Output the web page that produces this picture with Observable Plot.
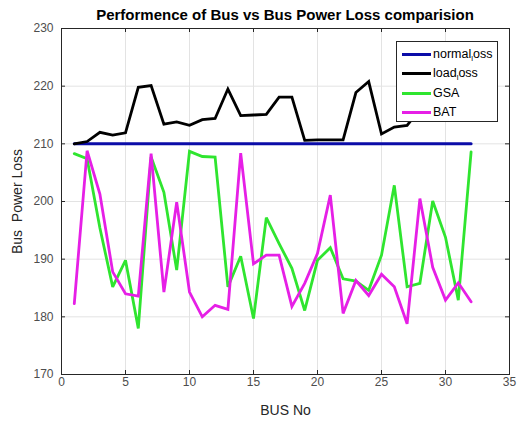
<!DOCTYPE html>
<html><head><meta charset="utf-8">
<script src="https://cdn.jsdelivr.net/npm/d3@7"></script>
<script src="https://cdn.jsdelivr.net/npm/@observablehq/plot@0.6"></script>
<style>
body{margin:0;background:#fff;font-family:"Liberation Sans",Arial,sans-serif}
#wrap{position:relative;width:525px;height:422px}
#chart{position:absolute;left:0;top:0;z-index:1}
#title{position:absolute;left:61px;width:448px;top:6px;text-align:center;font-weight:bold;font-size:15px;color:#000;line-height:18px;z-index:2}
#legend{position:absolute;left:396px;top:41px;width:102px;height:81px;background:#fff;border:1px solid #262626;box-sizing:border-box;font-size:12.5px;color:#000;z-index:3}
.row{position:absolute;left:0;height:19px;width:100%}
.row .sw{position:absolute;left:5px;width:29px;top:8px;height:3px}
.row .lb{position:absolute;left:36px;top:1px;line-height:16px;white-space:nowrap}
.row sub{font-size:8px;vertical-align:-3px;line-height:0}
</style>
</head><body>
<div id="wrap"><div id="title"></div><div id="chart"></div><div id="legend"></div></div>
<script>
const titleText = "Performence of Bus vs Bus Power Loss comparision";
const xLabel = "BUS No";
const yLabel = "Bus\u00a0 Power Loss";
const xTicks = [0, 5, 10, 15, 20, 25, 30, 35];
const yTicks = [170, 180, 190, 200, 210, 220, 230];
const busNo = [1,2,3,4,5,6,7,8,9,10,11,12,13,14,15,16,17,18,19,20,21,22,23,24,25,26,27,28,29,30,31,32];
const normalLoss = [210,210,210,210,210,210,210,210,210,210,210,210,210,210,210,210,210,210,210,210,210,210,210,210,210,210,210,210,210,210,210,210];
const loadLoss = [210.0,210.4,212.0,211.5,211.9,219.8,220.1,213.4,213.8,213.2,214.2,214.4,219.5,214.9,215.0,215.1,218.1,218.1,210.6,210.7,210.7,210.7,218.9,220.8,211.7,212.9,213.2,216.0,218.0,215.0,217.0,216.0];
const gsa = [208.3,207.4,195.4,185.2,189.8,178.0,207.7,201.6,188.1,208.7,207.8,207.7,185.2,190.5,179.7,197.2,192.7,188.4,181.1,189.8,192.0,186.6,186.2,184.6,190.7,202.8,185.2,185.8,200.1,193.8,182.9,208.6];
const bat = [182.3,208.8,201.3,187.8,184.0,183.6,208.3,184.3,199.9,184.3,180.0,182.0,181.3,208.4,189.2,190.7,190.7,181.8,185.8,191.0,201.1,180.6,186.3,183.7,187.4,185.2,178.8,200.5,188.6,182.9,185.9,182.6];
const seriesNames = ["normal_loss", "load_loss", "GSA", "BAT"];
const seriesColors = ["#0b0ca8", "#000000", "#2fe52f", "#e61fe6"];
const seriesValues = [normalLoss, loadLoss, gsa, bat];

const W = 525, H = 422, mL = 61, mR = 16, mT = 28, mB = 48;
const pw = W - mL - mR, ph = H - mT - mB;

document.getElementById("title").textContent = titleText;

const lineMarks = seriesValues.map((vals, i) =>
  Plot.lineY(busNo.map((b, j) => ({x: b, y: vals[j]})), {x: "x", y: "y", stroke: seriesColors[i], strokeWidth: i === 0 ? 3 : 2.8, strokeLinejoin: "miter", strokeMiterlimit: 3})
);

const chart = Plot.plot({
  width: W, height: H, marginLeft: mL, marginRight: mR, marginTop: mT, marginBottom: mB,
  style: {fontFamily: '"Liberation Sans", Arial, sans-serif', fontSize: "12px", color: "#4d4d4d", background: "transparent", overflow: "visible"},
  x: {domain: [0, 35]},
  y: {domain: [170, 230]},
  marks: [
    Plot.gridX(xTicks, {stroke: "#e3e3e3", strokeOpacity: 1}),
    Plot.gridY(yTicks, {stroke: "#e3e3e3", strokeOpacity: 1}),
    ...lineMarks,
    Plot.tickX(xTicks, {x: d => d, insetTop: ph - 4, stroke: "#262626"}),
    Plot.tickX(xTicks, {x: d => d, insetBottom: ph - 4, stroke: "#262626"}),
    Plot.tickY(yTicks, {y: d => d, insetRight: pw - 4, stroke: "#262626"}),
    Plot.tickY(yTicks, {y: d => d, insetLeft: pw - 4, stroke: "#262626"}),
    Plot.frame({stroke: "#262626"}),
    Plot.axisX(xTicks, {tickSize: 0, tickPadding: 3, label: null, fill: "#4d4d4d"}),
    Plot.axisY(yTicks, {tickSize: 0, tickPadding: 8, label: null, fill: "#4d4d4d"}),
    Plot.axisX([], {label: xLabel, labelAnchor: "center", labelArrow: "none", labelOffset: 40, fontSize: 14, fill: "#262626", tickSize: 0}),
    Plot.axisY([], {label: yLabel, labelAnchor: "center", labelArrow: "none", labelOffset: 49, fontSize: 14, fill: "#262626", tickSize: 0})
  ]
});
document.getElementById("chart").appendChild(chart);

const legend = document.getElementById("legend");
seriesNames.forEach((name, i) => {
  const row = document.createElement("div");
  row.className = "row";
  row.style.top = (3 + i * 19.3) + "px";
  const sw = document.createElement("div");
  sw.className = "sw";
  sw.style.background = seriesColors[i];
  const lb = document.createElement("div");
  lb.className = "lb";
  lb.innerHTML = name.replace(/_(.)/, "<sub>$1</sub>");
  row.appendChild(sw); row.appendChild(lb);
  legend.appendChild(row);
});
</script>
</body></html>
